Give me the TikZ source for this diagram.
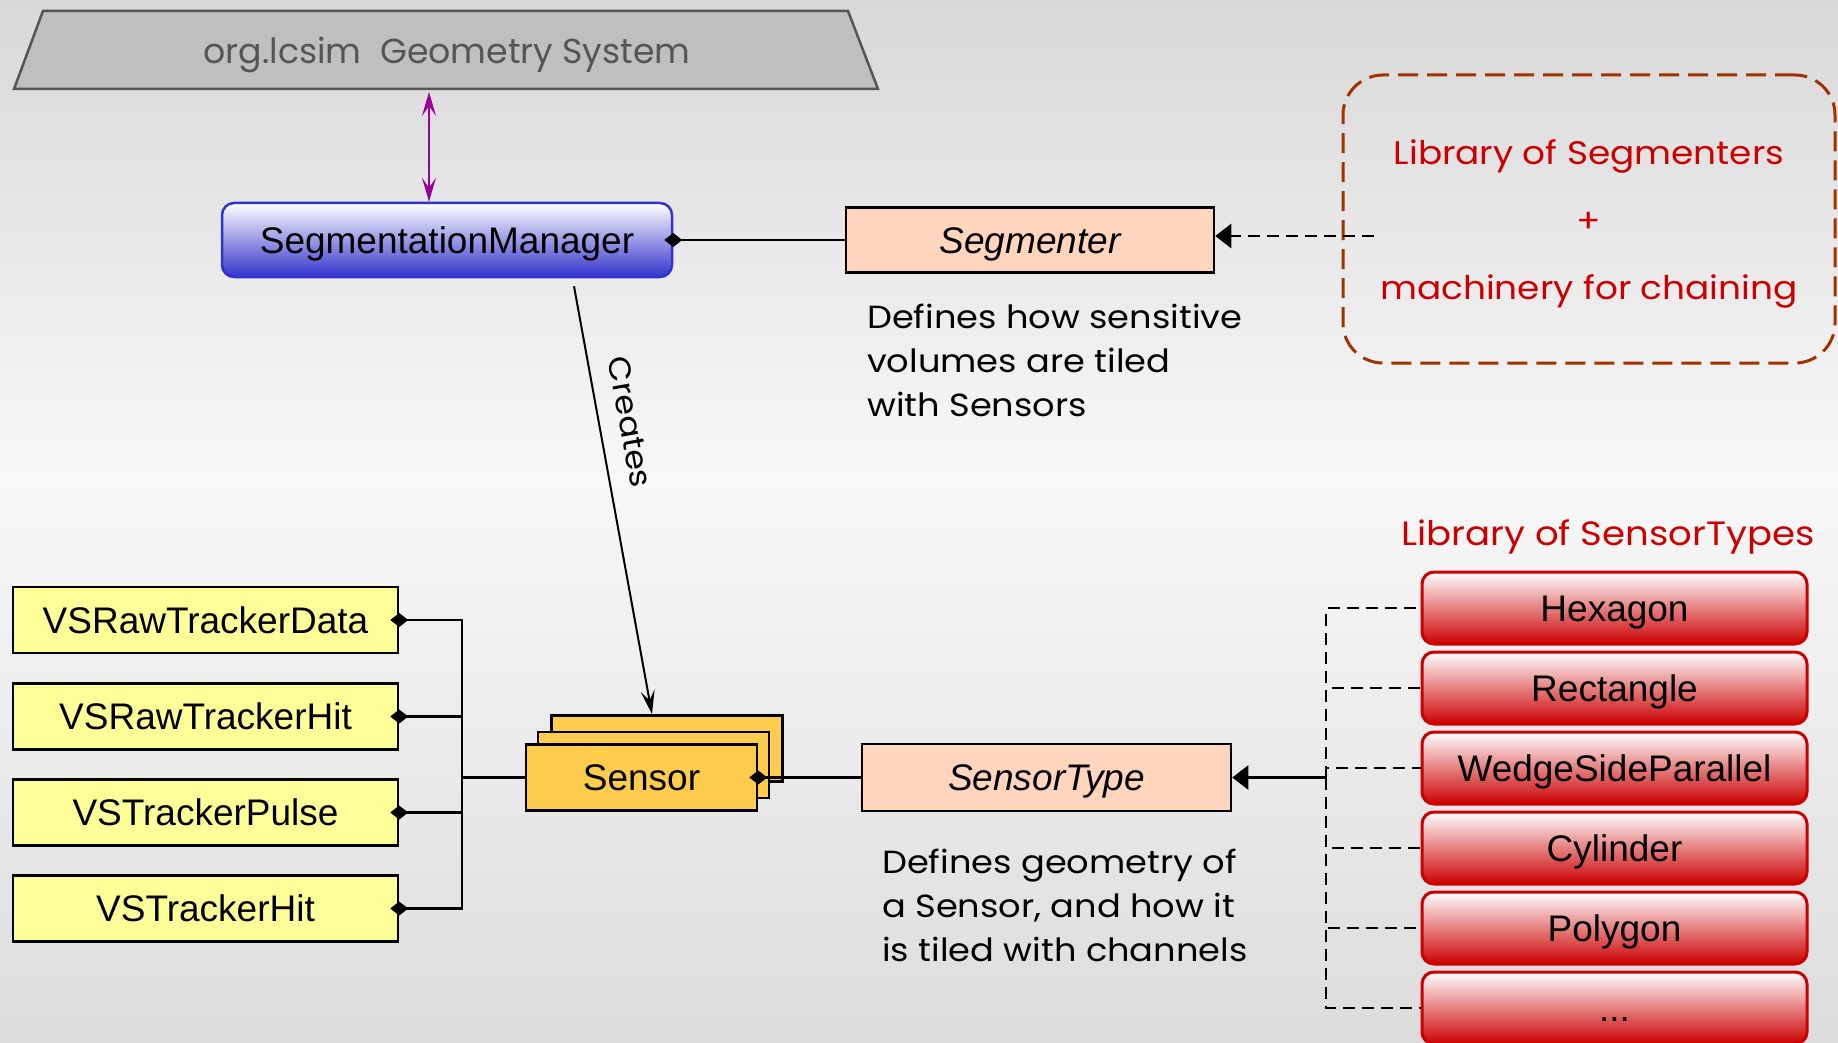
\documentclass[tikz,border=0pt]{standalone}
\usepackage{fontspec}
\setmainfont{Liberation Sans}
\newfontfamily\comic[FakeStretch=1.1]{Poppins}
\newfontfamily\comicn{Poppins}
\usetikzlibrary{arrows.meta}
\definecolor{bgtop}{RGB}{216,216,216}
\definecolor{bgmid}{RGB}{248,248,248}
\definecolor{bgbot}{RGB}{220,220,220}
\definecolor{trapfill}{RGB}{191,191,191}
\definecolor{trapline}{RGB}{85,85,85}
\definecolor{peachc}{RGB}{255,213,190}
\definecolor{goldc}{RGB}{255,204,77}
\definecolor{yellowc}{RGB}{255,255,153}
\definecolor{bluec}{RGB}{51,51,204}
\definecolor{redc}{RGB}{204,0,0}
\definecolor{brownc}{RGB}{160,51,0}
\definecolor{purplec}{RGB}{153,0,153}
\begin{document}
\begin{tikzpicture}[x=1pt,y=-1pt,
  arial/.style={font=\fontsize{37}{44}\selectfont, text height=34pt, text depth=8pt},
  ybox/.style={arial, draw=black, line width=2.5pt, fill=yellowc, minimum width=385pt, minimum height=66pt, inner sep=0pt},
  peachbox/.style={arial, draw=black, line width=2.5pt, fill=peachc, minimum width=368pt, minimum height=65pt, inner sep=0pt, font=\fontsize{37}{44}\selectfont\itshape},
  sensbox/.style={arial, draw=black, line width=2.5pt, fill=goldc, minimum width=231pt, minimum height=66pt, inner sep=0pt},
  redbox/.style={arial, draw=redc, line width=3pt, rounded corners=12pt, top color=white, bottom color=redc, minimum width=385pt, minimum height=72pt, inner sep=0pt},
  conn/.style={line width=2.5pt, draw=black},
  dconn/.style={line width=2.8pt, draw=black, dash pattern=on 12pt off 7pt},
  diam/.style={{Diamond[length=18pt,width=14pt]}-, shorten <=-9pt},
  tri/.style={-{Triangle[length=16pt,width=24pt]}},
  barb/.style={-{Stealth[length=24pt,width=14pt,inset=10pt]}},
  comictext/.style={font=\comic\fontsize{32}{44}\selectfont, inner sep=0pt, align=left},
  redtext/.style={font=\comic\fontsize{32.6}{67.5}\selectfont, text=redc, inner sep=0pt, align=center}
]
\useasboundingbox (0,0) rectangle (1838,1043);
% background
\shade[top color=bgtop, bottom color=bgmid] (0,0) rectangle (1838,480);
\shade[top color=bgmid, bottom color=bgbot] (0,479) rectangle (1838,1043);

% geometry system trapezoid
\draw[fill=trapfill, draw=trapline, line width=2.5pt] (43,11) -- (848,11) -- (878,89) -- (14,89) -- cycle;
\node[font=\comicn\fontsize{34.7}{40}\selectfont, text=trapline] (geo) at (447,55) {org.lcsim\ \ Geometry System};
\coordinate (geob) at (429,92);

% segmentation manager
\node[arial, draw=bluec, line width=2.5pt, rounded corners=12pt, top color=white, bottom color=bluec, minimum width=450pt, minimum height=74pt, inner sep=0pt] (segman) at (447,240) {SegmentationManager};
\draw[line width=2.5pt, draw=purplec, {Stealth[length=24pt,width=14pt,inset=10pt]}-{Stealth[length=24pt,width=14pt,inset=10pt]}] (geob) -- (geob |- segman.north);

% segmenter
\node[peachbox] (seg) at (1030,240) {Segmenter};
\draw[conn, diam] (segman.east) -- (seg.west);

% library of segmenters
\node[draw=brownc, line width=3pt, dash pattern=on 20pt off 9pt, rounded corners=40pt, minimum width=492pt, minimum height=288pt] (lib) at (1589,219) {};
\node[redtext] (libtxt) at (1589,224) {Library of Segmenters\\+\\machinery for chaining};
\coordinate (lp) at (1374,236);
\draw[dconn, tri] (lp) -- (seg.east |- lp);

% description 1
\node[comictext, anchor=north west] (desc1) at (867,304) {Defines how sensitive\\volumes are tiled\\with Sensors};

% sensors
\node[sensbox] (sback) at (667,748.5) {};
\node[sensbox] (smid) at (653.5,765) {};
\node[sensbox] (sfront) at (641.5,777.5) {Sensor};

% creates
\draw[line width=2pt, barb] ([xshift=127pt,yshift=-8pt]segman.south) -- ([xshift=-15pt]sback.north);
\node[font=\comic\fontsize{30.5}{36}\selectfont, rotate=-79.7] (creates) at (630,422) {Creates};

% sensor type
\node[peachbox, minimum width=369pt, minimum height=67pt] (stype) at (1046.5,777.5) {SensorType};
\draw[conn, diam] (sfront.east) -- (stype.west);

% description 2
\node[comictext, anchor=north west] (desc2) at (882,849) {Defines geometry of\\a Sensor, and how it\\is tiled with channels};

% data classes
\node[ybox] (vsrd) at (205.5,620) {VSRawTrackerData};
\node[ybox] (vsrh) at (205.5,716.5) {VSRawTrackerHit};
\node[ybox] (vstp) at (205.5,812.5) {VSTrackerPulse};
\node[ybox] (vsth) at (205.5,908.5) {VSTrackerHit};
\coordinate (lj) at (462,777.5);
\foreach \n in {vsrd,vsrh,vstp,vsth} \draw[conn, diam] (\n.east) -| (lj);
\draw[conn] (lj) -- (sfront.west);

% sensor types library
\node[redtext, font=\comic\fontsize{33.7}{40}\selectfont] (libst) at (1608,537) {Library of SensorTypes};
\node[redbox] (hex) at (1614.5,608) {Hexagon};
\node[redbox] (rect) at (1614.5,688) {Rectangle};
\node[redbox] (wedge) at (1614.5,768) {WedgeSideParallel};
\node[redbox] (cyl) at (1614.5,848) {Cylinder};
\node[redbox] (poly) at (1614.5,928) {Polygon};
\node[redbox] (dots) at (1614.5,1008) {...};
\coordinate (rj) at (1326,777.5);
\foreach \n in {hex,rect,wedge,cyl,poly,dots} \draw[dconn] (rj) |- (\n.west);
\draw[conn, tri] (rj) -- (stype.east);
\end{tikzpicture}
\end{document}
